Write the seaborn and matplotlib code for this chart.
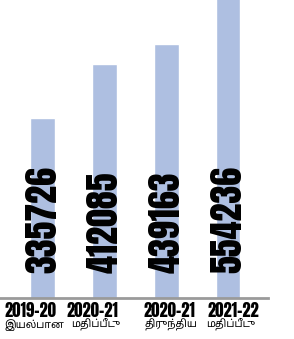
import matplotlib
matplotlib.use("Agg")
import matplotlib.pyplot as plt
import matplotlib.transforms as mtransforms
import seaborn as sns
import pandas as pd

# Data
years = ["2019-20", "2020-21", "2020-21", "2021-22"]
stages = ["இயல்பான", "மதிப்பீடு", "திருந்திய", "மதிப்பீடு"]
values = [335726, 412085, 439163, 554236]

df = pd.DataFrame({"label": [f"{y}\n{s}" for y, s in zip(years, stages)],
                   "value": values})

sns.set_theme(style="white")
num_font = ["Anton", "DejaVu Sans"]
tamil_font = ["Noto Sans Tamil", "Lohit Tamil", "DejaVu Sans"]

# label nudges (category units) to follow the reference's layout
year_shift = [-0.2, -0.19, 0.06, 0.09]
stage_shift = [-0.13, -0.14, 0.07, 0.05]

fig = plt.figure(figsize=(2.94, 3.39), dpi=100)
ax = fig.add_axes([0, 0.121, 0.912, 0.879])

sns.barplot(data=df, x="label", y="value", color="#aebfe1", saturation=1,
            width=0.4, ax=ax)

ax.set_ylim(86000, 500400)
ax.set_xlim(-0.69, 3.65)
ax.set_xticks([])
ax.set_yticks([])
ax.set_xlabel("")
ax.set_ylabel("")
for side in ["top", "left", "right"]:
    ax.spines[side].set_visible(False)
ax.spines["bottom"].set_color("#9a9a9a")
ax.spines["bottom"].set_linewidth(2)

trans = mtransforms.blended_transform_factory(ax.transData, ax.transAxes)
for i, v in enumerate(values):
    ax.text(i, 0.084, str(v), rotation=90, ha="center", va="bottom",
            fontsize=26, family=num_font, color="black", transform=trans,
            clip_on=False)
    ax.text(i + year_shift[i], -0.012, years[i], ha="center", va="top",
            fontsize=12, family=num_font, color="black", transform=trans,
            clip_on=False)
    ax.text(i + stage_shift[i], -0.07, stages[i], ha="center", va="top",
            fontsize=7.5, fontweight="bold", family=tamil_font, color="black",
            transform=trans, clip_on=False)

fig.savefig("out.png", dpi=100)
